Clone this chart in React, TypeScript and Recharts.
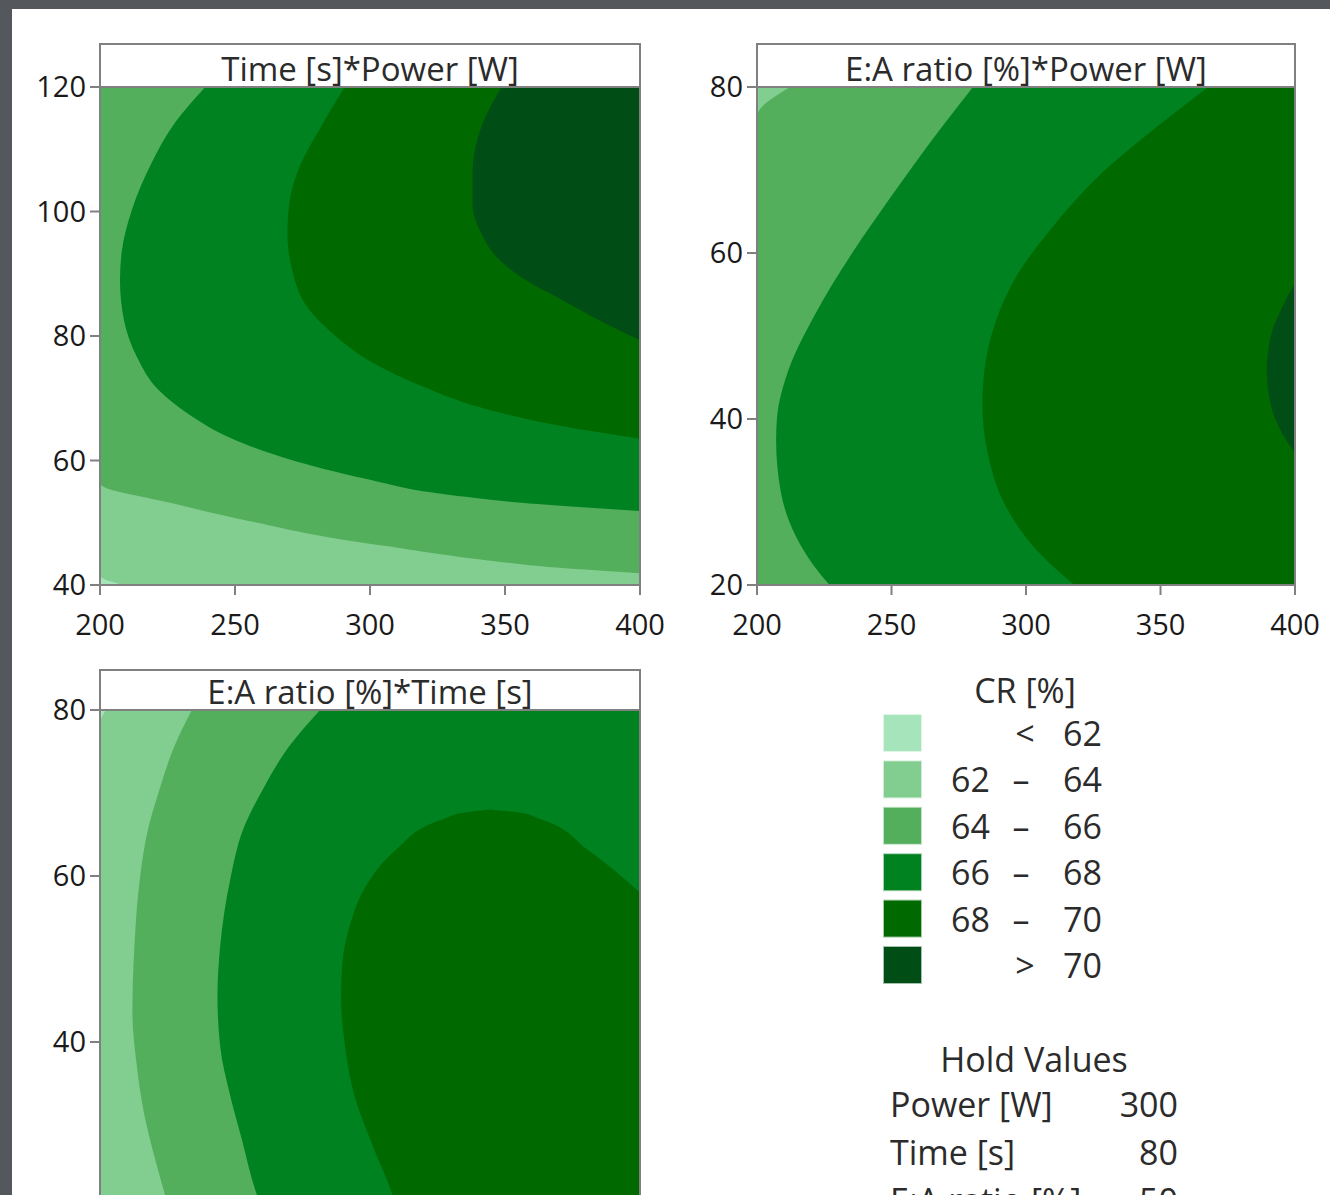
import React from "react";
import { ComposedChart, Area, XAxis, YAxis, CartesianGrid } from "recharts";

type Pt = [number, number]; // [x, y] in data units

const FONT = '"Open Sans", "Noto Sans", sans-serif';

// CR [%] bands, lowest first
const BAND_COLORS = ["#a6e4bb", "#82cd90", "#53af5c", "#008221", "#006a00", "#004d16"];
const BAND_LOW = ["", "62", "64", "66", "68", ""];
const BAND_SIGN = ["<", "–", "–", "–", "–", ">"];
const BAND_HIGH = ["62", "64", "66", "68", "70", "70"];

const HOLD_NAMES = ["Power [W]", "Time [s]", "E:A ratio [%]"];
const HOLD_VALUES = [300, 80, 50];

const POWER_TICKS = [200, 250, 300, 350, 400];
const TIME_TICKS = [40, 60, 80, 100, 120];
const RATIO_TICKS = [20, 40, 60, 80];
// lower panel is cut by the window: its x axis and the 20 tick sit below the edge
const RATIO_TICKS_SHOWN = [40, 60, 80];

// Each contour is the left edge of the region where CR is above that level.
// Time [s] (y) vs Power [W] (x)
const TP_62: Pt[] = [[209, 40], [200, 41.5], [200, 120]];
const TP_64: Pt[] = [[400, 41.9], [369, 42.8], [341, 44.1], [313, 45.8], [284, 47.7], [256, 50.2], [228, 53], [200, 56.3], [200, 120]];
const TP_66: Pt[] = [[400, 51.9], [362, 53], [327, 54.6], [298, 57.1], [270, 60.2], [249, 63.5], [233, 67.4], [222, 71.2], [213.5, 76.8], [209, 82.3], [207.4, 88.9], [208, 93.4], [212, 100.5], [219, 107.7], [228, 114.4], [239, 120]];
const TP_68: Pt[] = [[400, 63.5], [369, 65.7], [341, 68.5], [320, 71.8], [301, 75.7], [287, 80.1], [277, 84.5], [271.5, 90], [269.4, 96.7], [270, 101.1], [274.4, 107.7], [281.4, 113.3], [290.6, 120]];
const TP_70: Pt[] = [[400, 79.3], [386, 82.3], [372, 85.6], [358, 88.9], [348, 92.2], [341, 96.7], [338, 101.1], [338, 106.1], [341, 113.3], [348.7, 120]];

// E:A ratio [%] (y) vs Power [W] (x)
const RP_64: Pt[] = [[200, 20], [200, 76.4], [212.3, 80]];
const RP_66: Pt[] = [[227, 20], [221.4, 22.2], [214.4, 25.9], [208.8, 31.3], [207.1, 37.5], [207.4, 40], [211.6, 45.8], [221.4, 52.5], [235.4, 60], [249.4, 66.6], [263.4, 72.9], [280.3, 80]];
const RP_68: Pt[] = [[318, 20], [304, 24.2], [291.5, 30.1], [286, 35.5], [283.8, 41.7], [284.5, 45.8], [288.7, 51.7], [297, 57.5], [308.3, 62.5], [326.5, 69.1], [347.5, 74.9], [367.8, 80]];
const RP_70: Pt[] = [[400, 35.9], [395, 38.4], [391, 41.7], [389.5, 45.8], [391, 50], [395, 53.3], [400, 56.4]];

// E:A ratio [%] (y) vs Time [s] (x)
const RT_62: Pt[] = [[40, 20], [40, 78.4], [40.9, 80]];
const RT_64: Pt[] = [[50.2, 20], [49.6, 21.7], [47.9, 26.7], [46.5, 31.5], [45.4, 37.5], [44.8, 43.5], [45.1, 51.5], [45.9, 59.6], [47.1, 65.6], [48.8, 70.4], [51, 75.6], [53.6, 80]];
const RT_66: Pt[] = [[64, 20], [63.2, 21.7], [61, 28.3], [59.3, 33.5], [57.8, 39.5], [57.4, 45.5], [57.8, 51.5], [59.3, 59.6], [61.2, 65.6], [64.1, 70.4], [68, 75.6], [72.6, 80]];
const RT_68: Pt[] = [[84, 20], [83.3, 21.7], [80, 28.3], [77.7, 33.5], [76.3, 39.5], [75.7, 45.5], [75.9, 49.5], [77.1, 54.3], [79.4, 58.8], [83.9, 63.2], [90.7, 66.8], [94.5, 67.7], [98.1, 68]];
// right edge of the 68 island, painted back over with the 66–68 colour
const RT_68_RIGHT: Pt[] = [[120, 58], [112.2, 63.2], [105.4, 66.8], [101.7, 67.7], [98.1, 68], [98.1, 68.6]];

interface Layer {
  key: string;
  color: string;
  pts: Pt[];
}

function toRows(layers: Layer[]) {
  const rows: Record<string, number>[] = [];
  layers.forEach((l) => l.pts.forEach(([x, y]) => rows.push({ y, [l.key]: x })));
  return rows.sort((a, b) => a.y - b.y);
}

const TICK_LINE = { stroke: "#808080", strokeWidth: 2 };
const TICK_TEXT = { fontSize: 29, fill: "#1a1a1a", fontFamily: FONT };

interface PanelProps {
  left: number;
  top: number;
  width: number;
  height: number;
  margin: { top: number; right: number; bottom: number; left: number };
  xDomain: [number, number];
  xTicks: number[];
  yDomain: [number, number];
  yTicks: number[];
  baseColor: string;
  layers: Layer[];
  xTickLabels?: boolean;
}

function ContourPanel({ left, top, width, height, margin, xDomain, xTicks, yDomain, yTicks, baseColor, layers, xTickLabels = true }: PanelProps) {
  const rows = toRows(layers);
  return (
    <div style={{ position: "absolute", left, top }}>
      <ComposedChart width={width} height={height} data={rows} layout="vertical" margin={margin}>
        <CartesianGrid fill={baseColor} fillOpacity={1} horizontal={false} vertical={false} stroke="none" />
        <XAxis
          type="number"
          domain={xDomain}
          ticks={xTicks}
          interval={0}
          allowDataOverflow
          axisLine={false}
          tickLine={TICK_LINE}
          tickSize={10}
          tickMargin={19}
          tick={xTickLabels ? TICK_TEXT : false}
          height={60}
        />
        <YAxis
          type="number"
          dataKey="y"
          domain={yDomain}
          ticks={yTicks}
          interval={0}
          reversed
          allowDataOverflow
          axisLine={false}
          tickLine={TICK_LINE}
          tickSize={10}
          tickMargin={4}
          tick={TICK_TEXT}
          width={60}
        />
        {layers.map((l) => (
          <Area
            key={l.key}
            dataKey={l.key}
            type="monotone"
            fill={l.color}
            fillOpacity={1}
            stroke="none"
            baseValue={xDomain[1]}
            connectNulls
            dot={false}
            activeDot={false}
            isAnimationActive={false}
          />
        ))}
      </ComposedChart>
    </div>
  );
}

const PANELS = [
  { x: 100, y: 87, w: 540, h: 498, titleTop: 44, title: "Time [s]*Power [W]", baseline: 81 },
  { x: 757, y: 87, w: 538, h: 498, titleTop: 44, title: "E:A ratio [%]*Power [W]", baseline: 81 },
  { x: 100, y: 710, w: 540, h: 498, titleTop: 670, title: "E:A ratio [%]*Time [s]", baseline: 704 },
];

function Overlay() {
  const text = "#2b2b2b";
  return (
    <svg width={1330} height={1195} style={{ position: "absolute", left: 0, top: 0, pointerEvents: "none" }} fontFamily={FONT}>
      {PANELS.map((p) => (
        <g key={p.title}>
          <rect x={p.x} y={p.titleTop} width={p.w} height={p.y - p.titleTop} fill="#fff" stroke="#808080" strokeWidth={2} />
          <rect x={p.x} y={p.y} width={p.w} height={p.h} fill="none" stroke="#808080" strokeWidth={2} />
          <text x={p.x + p.w / 2} y={p.baseline} textAnchor="middle" fontSize={33} fill={text}>
            {p.title}
          </text>
        </g>
      ))}
      <text x={1025} y={703} textAnchor="middle" fontSize={34} fill={text}>
        CR [%]
      </text>
      {BAND_COLORS.map((c, i) => {
        const top = 715 + i * 46.4;
        const base = top + 31;
        return (
          <g key={c}>
            <rect x={884} y={top} width={37} height={36} fill={c} stroke={c} strokeOpacity={0.35} strokeWidth={2} />
            <text x={990} y={base} textAnchor="end" fontSize={34} fill={text}>
              {BAND_LOW[i]}
            </text>
            <text x={BAND_SIGN[i] === "–" ? 1021 : 1025} y={base} textAnchor="middle" fontSize={34} fill={text}>
              {BAND_SIGN[i]}
            </text>
            <text x={1063} y={base} textAnchor="start" fontSize={34} fill={text}>
              {BAND_HIGH[i]}
            </text>
          </g>
        );
      })}
      <text x={1034} y={1072} textAnchor="middle" fontSize={34} fill={text}>
        Hold Values
      </text>
      {HOLD_NAMES.map((n, i) => (
        <g key={n}>
          <text x={890} y={1117 + i * 48} fontSize={34} fill={text}>
            {n}
          </text>
          <text x={1178} y={1117 + i * 48} textAnchor="end" fontSize={34} fill={text}>
            {HOLD_VALUES[i]}
          </text>
        </g>
      ))}
    </svg>
  );
}

export default function App() {
  return (
    <div
      style={{
        position: "absolute",
        left: 0,
        top: 0,
        width: 1330,
        height: 1195,
        overflow: "hidden",
        background: "#54575c",
        fontFamily: FONT,
      }}
    >
      <div style={{ position: "absolute", left: 12, top: 9, width: 1318, height: 1186, background: "#fff" }} />
      <ContourPanel
        left={0}
        top={0}
        width={700}
        height={660}
        margin={{ top: 87, right: 60, bottom: 15, left: 40 }}
        xDomain={[200, 400]}
        xTicks={POWER_TICKS}
        yDomain={[40, 120]}
        yTicks={TIME_TICKS}
        baseColor={BAND_COLORS[0]}
        layers={[
          { key: "above62", color: BAND_COLORS[1], pts: TP_62 },
          { key: "above64", color: BAND_COLORS[2], pts: TP_64 },
          { key: "above66", color: BAND_COLORS[3], pts: TP_66 },
          { key: "above68", color: BAND_COLORS[4], pts: TP_68 },
          { key: "above70", color: BAND_COLORS[5], pts: TP_70 },
        ]}
      />
      <ContourPanel
        left={657}
        top={0}
        width={673}
        height={660}
        margin={{ top: 87, right: 35, bottom: 15, left: 40 }}
        xDomain={[200, 400]}
        xTicks={POWER_TICKS}
        yDomain={[20, 80]}
        yTicks={RATIO_TICKS}
        baseColor={BAND_COLORS[1]}
        layers={[
          { key: "above64", color: BAND_COLORS[2], pts: RP_64 },
          { key: "above66", color: BAND_COLORS[3], pts: RP_66 },
          { key: "above68", color: BAND_COLORS[4], pts: RP_68 },
          { key: "above70", color: BAND_COLORS[5], pts: RP_70 },
        ]}
      />
      <ContourPanel
        left={0}
        top={600}
        width={700}
        height={683}
        margin={{ top: 110, right: 60, bottom: 15, left: 40 }}
        xDomain={[40, 120]}
        xTicks={TIME_TICKS}
        yDomain={[20, 80]}
        yTicks={RATIO_TICKS_SHOWN}
        baseColor={BAND_COLORS[0]}
        xTickLabels={false}
        layers={[
          { key: "above62", color: BAND_COLORS[1], pts: RT_62 },
          { key: "above64", color: BAND_COLORS[2], pts: RT_64 },
          { key: "above66", color: BAND_COLORS[3], pts: RT_66 },
          { key: "above68", color: BAND_COLORS[4], pts: RT_68 },
          { key: "island68Right", color: BAND_COLORS[3], pts: RT_68_RIGHT },
        ]}
      />
      <Overlay />
    </div>
  );
}
